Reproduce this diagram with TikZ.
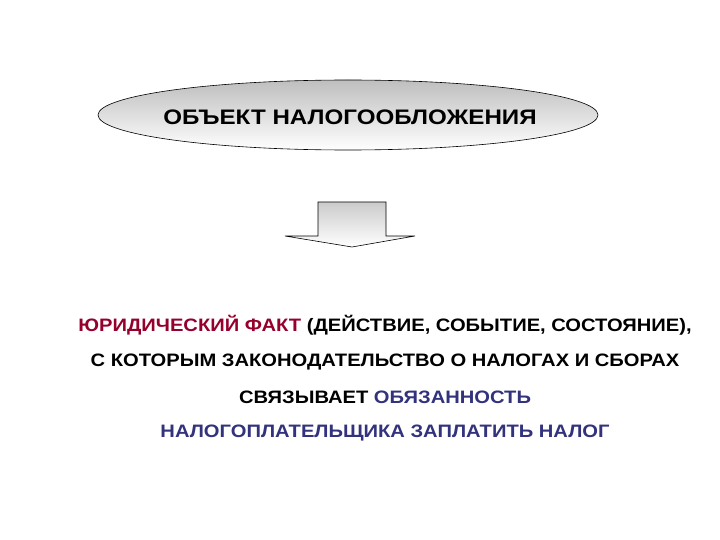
\documentclass[tikz,border=0pt]{standalone}
\usepackage{fontspec}
\setmainfont{Liberation Sans}
\usetikzlibrary{shapes.geometric}
\definecolor{factred}{RGB}{150,0,45}
\definecolor{dutyblue}{RGB}{50,50,125}
\definecolor{shadegray}{RGB}{190,190,190}
\newcommand{\widetxt}[1]{\scalebox{1.12}[1]{#1}}
\tikzset{
  txt/.style={font=\bfseries\fontsize{18}{21}\selectfont, inner sep=0pt, anchor=center},
}
\begin{document}
\begin{tikzpicture}[x=1pt,y=-1pt]
\useasboundingbox (0,0) rectangle (720,540);
\node[ellipse, draw=black, line width=0.6pt, top color=shadegray, bottom color=white,
      minimum width=500pt, minimum height=70pt, inner sep=0pt] (obj) at (348,115) {};
\node[font=\bfseries\fontsize{21}{25}\selectfont, inner sep=0pt] (objt) at (350,117) {\scalebox{1.15}[1]{ОБЪЕКТ НАЛОГООБЛОЖЕНИЯ}};
\coordinate (tip) at (352,247);
\path[top color=shadegray!80, bottom color=white, draw=black, line width=0.6pt]
  (318,202) -- (386,202) -- (386,236) -- (415,236) -- (tip) -- (285,236) -- (318,236) -- cycle;
\node[txt] (l1) at (385,325) {\widetxt{\textcolor{factred}{ЮРИДИЧЕСКИЙ ФАКТ} (ДЕЙСТВИЕ, СОБЫТИЕ, СОСТОЯНИЕ),}};
\node[txt] (l2) at (385,362) {\widetxt{С КОТОРЫМ ЗАКОНОДАТЕЛЬСТВО О НАЛОГАХ И СБОРАХ}};
\node[txt] (l3) at (385,397) {\widetxt{СВЯЗЫВАЕТ \textcolor{dutyblue}{ОБЯЗАННОСТЬ}}};
\node[txt, text=dutyblue] (l4) at (385,433) {\widetxt{НАЛОГОПЛАТЕЛЬЩИКА ЗАПЛАТИТЬ НАЛОГ}};
\end{tikzpicture}
\end{document}
